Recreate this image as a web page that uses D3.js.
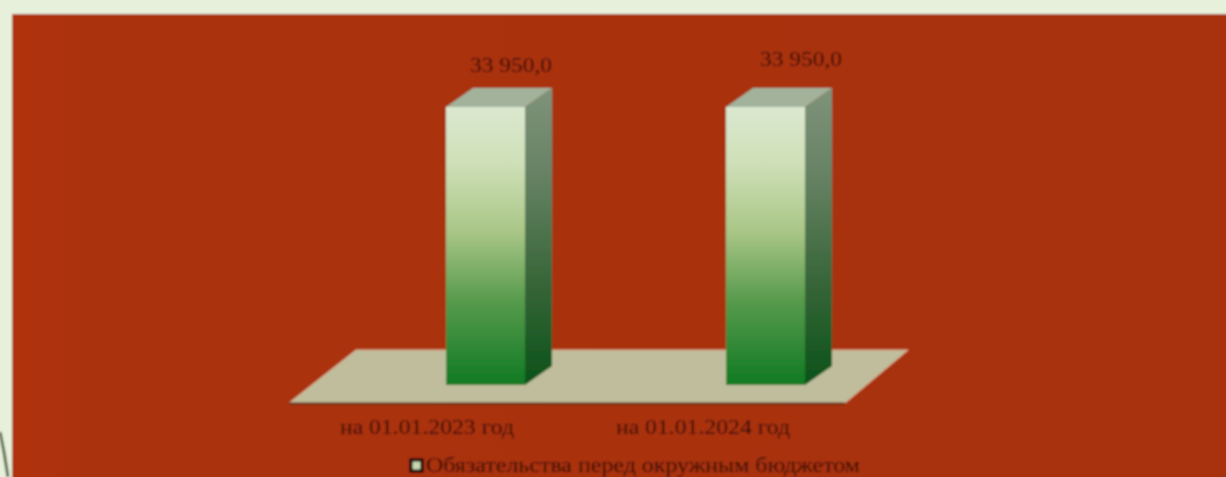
<!DOCTYPE html>
<html><head><meta charset="utf-8">
<script src="https://cdn.jsdelivr.net/npm/d3@7"></script>
<style>html,body{margin:0;padding:0;background:#e6f0da;overflow:hidden}svg{display:block}</style>
</head><body><svg id="c" width="1226" height="477"></svg>
<script>
const categories = ["на 01.01.2023 год", "на 01.01.2024 год"];
const values = [33950, 33950];
const valueLabels = ["33 950,0", "33 950,0"];
const legendLabel = "Обязательства перед окружным бюджетом";

const svg = d3.select("#c");
const defs = svg.append("defs");
function grad(id, stops){
  const g = defs.append("linearGradient").attr("id",id).attr("x1",0).attr("y1",0).attr("x2",0).attr("y2",1);
  stops.forEach(s=>g.append("stop").attr("offset",s[0]).attr("stop-color",s[1]));
}
grad("front",[[0,"#dbe8cf"],[0.2,"#cfe0b8"],[0.45,"#a9c686"],[0.7,"#569a4c"],[1,"#107a22"]]);
grad("side",[[0,"#7f937b"],[0.3,"#668263"],[0.65,"#386639"],[1,"#0b5219"]]);
const bg = defs.append("linearGradient").attr("id","bg").attr("x1",0).attr("y1",0).attr("x2",1).attr("y2",0);
[[0,"#b0320f"],[0.06,"#aa320e"],[1,"#a8320f"]].forEach(s=>bg.append("stop").attr("offset",s[0]).attr("stop-color",s[1]));
const soft = defs.append("filter").attr("id","soft").attr("x","-5%").attr("y","-5%").attr("width","110%").attr("height","110%");
soft.append("feGaussianBlur").attr("stdDeviation",0.8);

const root = svg.append("g").attr("filter","url(#soft)");
root.append("rect").attr("x",-10).attr("y",-10).attr("width",1250).attr("height",500).attr("fill","#e6f0da");
root.append("rect").attr("x",12).attr("y",14).attr("width",1230).attr("height",480).attr("fill","url(#bg)");
root.append("path").attr("d",d3.line()([[0,432],[4,452],[8,477]])).attr("fill","none").attr("stroke","#56664a").attr("stroke-width",3);

const x = d3.scaleBand().domain(categories).range([306,945]).paddingInner(0.7179).paddingOuter(0.5);
const y = d3.scaleLinear().domain([0,33950]).range([385,107]);
const dx = 27, dy = -19;

// floor
const floorLine = d3.line();
root.append("path").attr("d",floorLine([[289,403],[845,403],[908,350],[356,350]])+"Z")
  .attr("fill","#bfbd9b").attr("stroke","#e0a985").attr("stroke-width",1);
root.append("path").attr("d",floorLine([[289,403.5],[845,403.5]])).attr("stroke","#5e2f14").attr("stroke-width",2).attr("fill","none");

const bars = root.selectAll("g.bar").data(categories.map((c,i)=>({c,v:values[i],l:valueLabels[i],i}))).join("g").attr("class","bar");
bars.append("path").attr("fill","url(#side)").attr("d",d=>{
  const r=x(d.c)+x.bandwidth(), t=y(d.v), b=y(0);
  return floorLine([[r,t],[r+dx,t+dy],[r+dx,b+dy],[r,b]])+"Z";});
bars.append("path").attr("fill","#a3b29b").attr("d",d=>{
  const l=x(d.c), r=l+x.bandwidth(), t=y(d.v);
  return floorLine([[l,t],[l+dx,t+dy],[r+dx,t+dy],[r,t]])+"Z";});
bars.append("rect").attr("x",d=>x(d.c)).attr("y",d=>y(d.v)).attr("width",x.bandwidth()).attr("height",d=>y(0)-y(d.v)).attr("fill","url(#front)");

const font = "'Liberation Serif','Times New Roman',serif", ink = "#300a04";
const labelNudge = [0,-6];
bars.append("text").attr("x",d=>x(d.c)+x.bandwidth()/2+(d.i?35.5:25.5)).attr("y",d=>y(d.v)-35+labelNudge[d.i])
  .attr("text-anchor","middle").attr("font-family",font).attr("font-size",21).attr("textLength",82).attr("lengthAdjust","spacingAndGlyphs").attr("fill",ink).text(d=>d.l);
bars.append("text").attr("x",d=>x(d.c)+x.bandwidth()/2-(d.i?62.5:58.5)).attr("y",434)
  .attr("text-anchor","middle").attr("font-family",font).attr("font-size",21).attr("textLength",174).attr("lengthAdjust","spacingAndGlyphs").attr("fill",ink).text(d=>d.c);

root.append("rect").attr("x",411).attr("y",460).attr("width",11).attr("height",11).attr("fill","#c9d8b0").attr("stroke","#000").attr("stroke-width",3);
root.append("text").attr("x",426).attr("y",472).attr("font-family",font).attr("font-size",20).attr("textLength",434).attr("lengthAdjust","spacingAndGlyphs").attr("fill",ink).text(legendLabel);
</script></body></html>
